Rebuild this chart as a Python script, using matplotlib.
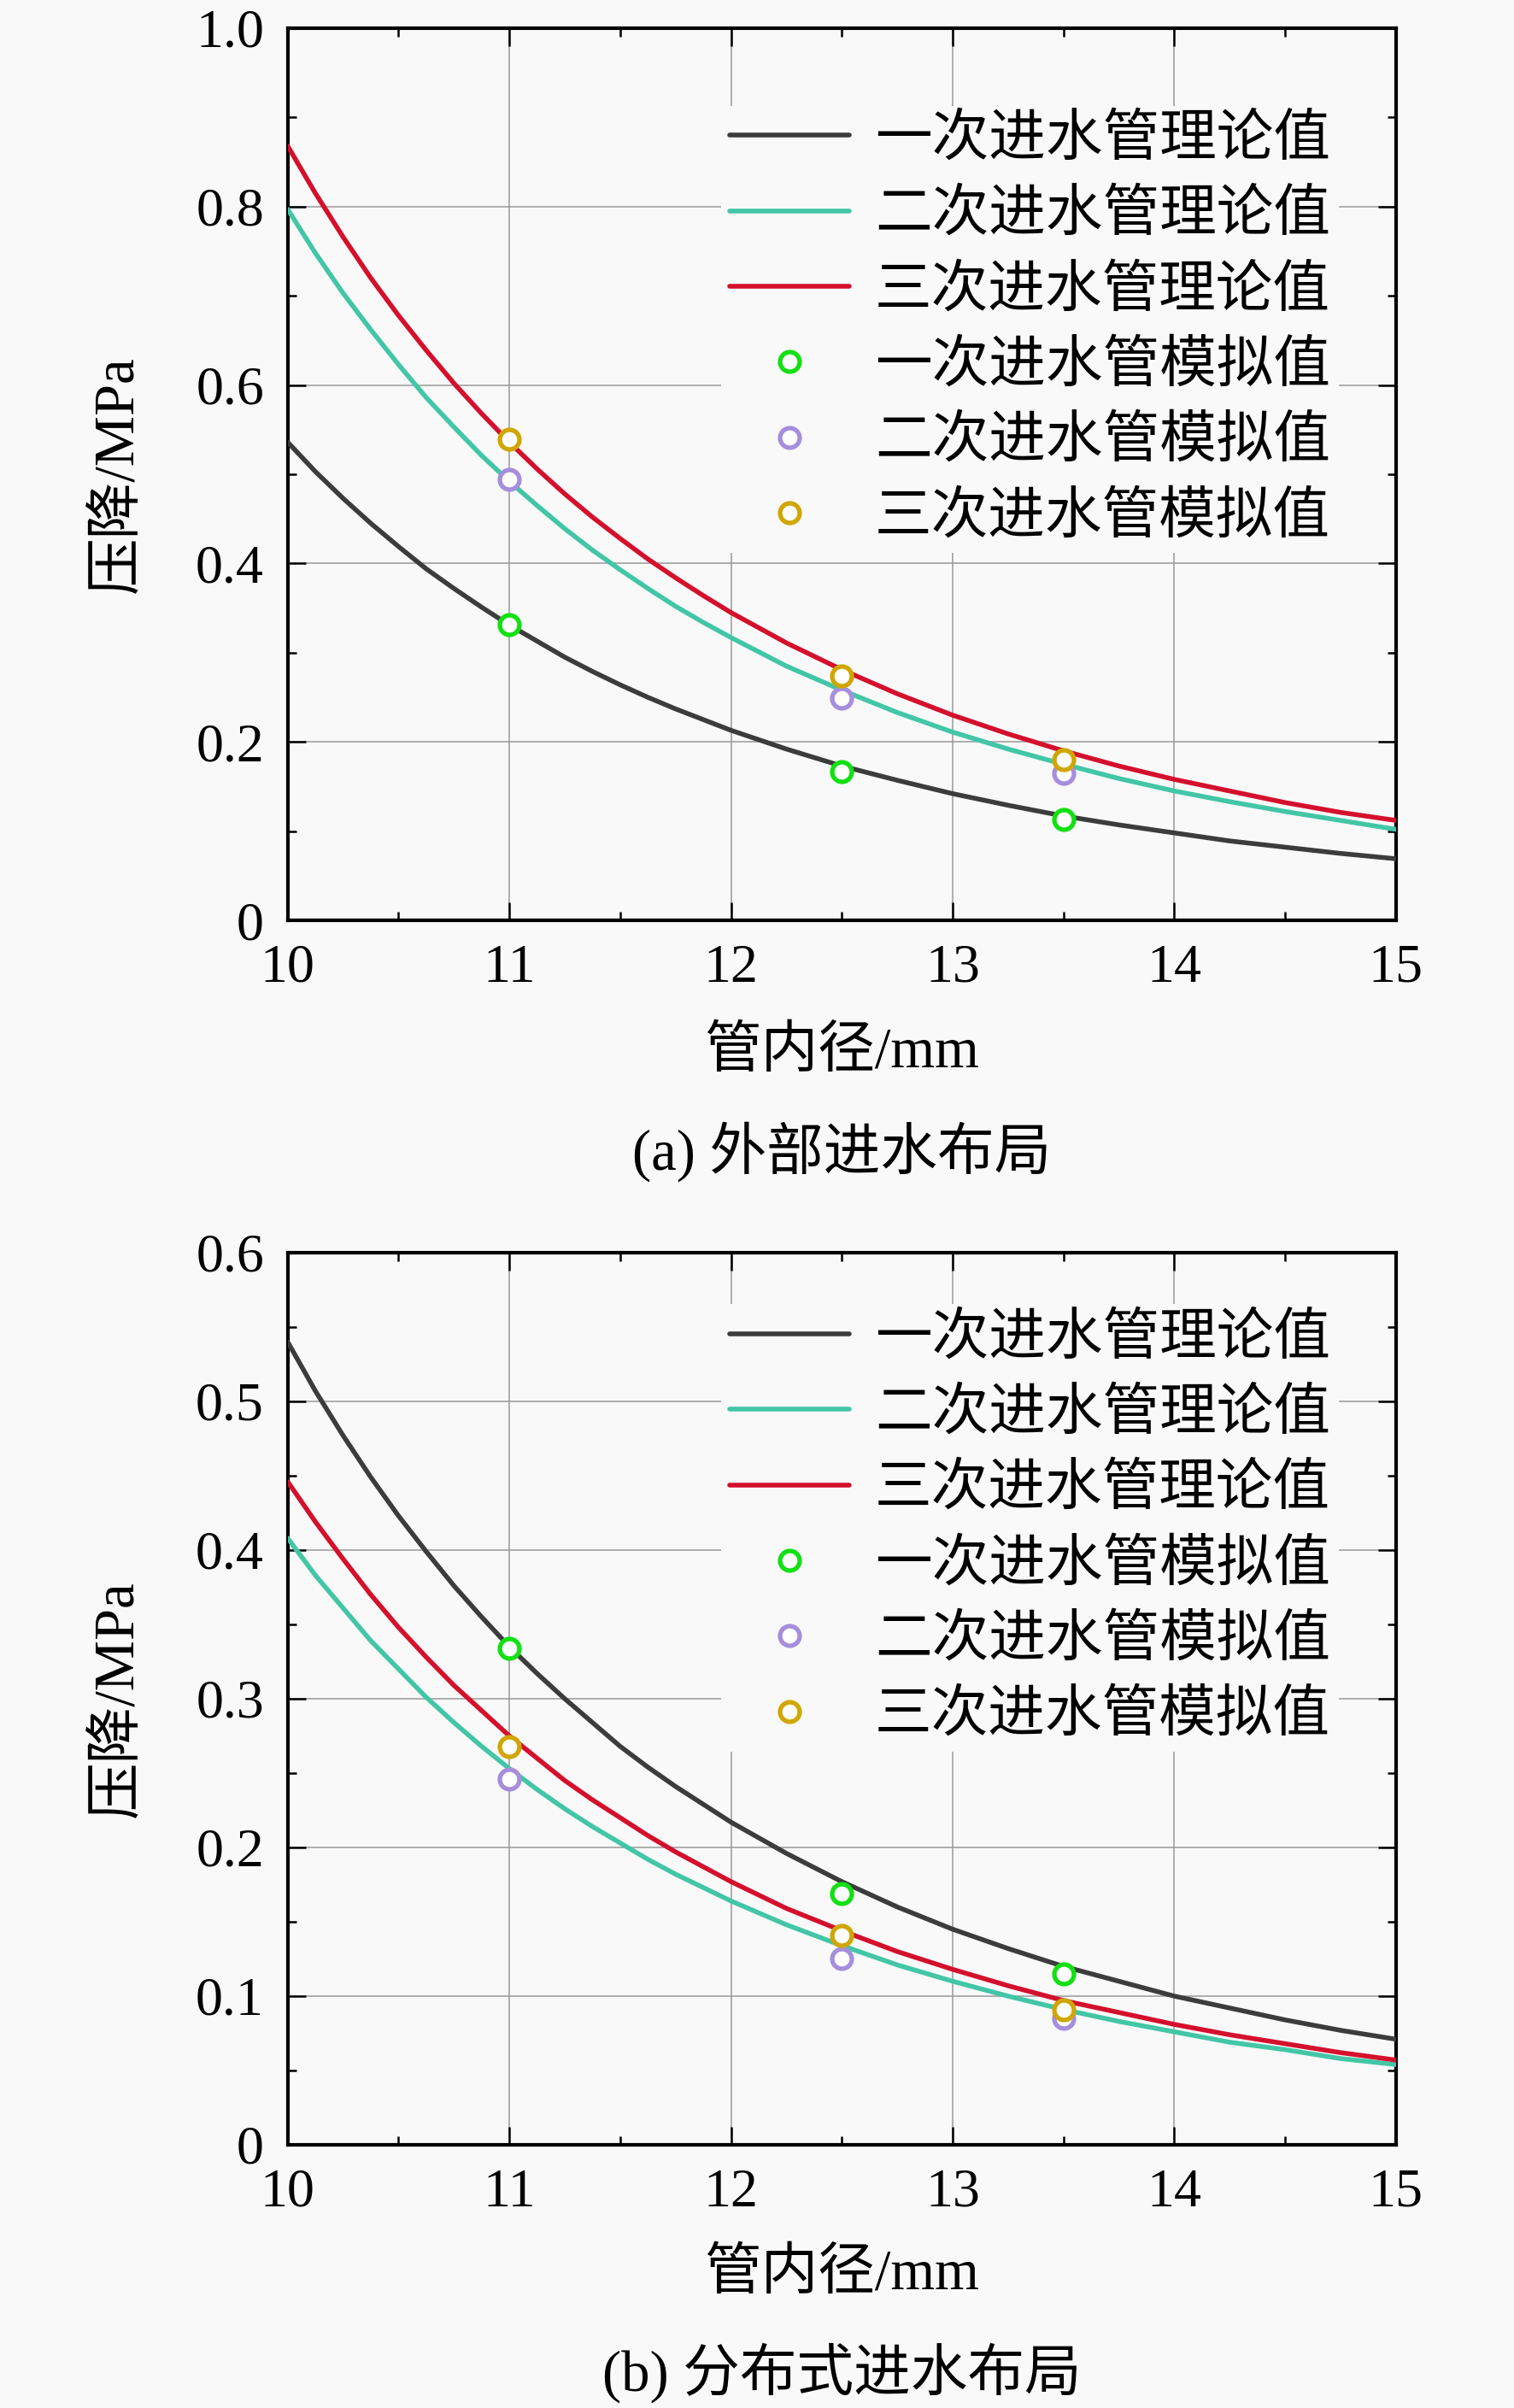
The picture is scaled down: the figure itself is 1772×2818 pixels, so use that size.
import matplotlib
matplotlib.use('Agg')
import matplotlib.pyplot as plt
from matplotlib.ticker import MultipleLocator, FuncFormatter

plt.rcParams['font.family'] = ['Liberation Serif', 'Noto Sans CJK SC']

# pipe inner diameter (mm) for the theoretical curves
d_theory = [10, 10.125, 10.25, 10.375, 10.5, 10.625, 10.75, 10.875, 11, 11.125,
            11.25, 11.375, 11.5, 11.625, 11.75, 11.875, 12, 12.25, 12.5, 12.75,
            13, 13.25, 13.5, 13.75, 14, 14.25, 14.5, 14.75, 15]
# simulated diameters
d_sim = [11, 12.5, 13.5]

# (a) external inlet layout, theory (MPa)
a_theory1 = [0.536, 0.503, 0.473, 0.445, 0.419, 0.394, 0.372, 0.351, 0.331, 0.313,
             0.295, 0.279, 0.264, 0.250, 0.237, 0.225, 0.213, 0.192, 0.173, 0.157,
             0.142, 0.129, 0.117, 0.107, 0.098, 0.089, 0.082, 0.075, 0.069]
a_theory2 = [0.797, 0.748, 0.703, 0.662, 0.623, 0.586, 0.553, 0.521, 0.492, 0.465,
             0.439, 0.415, 0.393, 0.372, 0.352, 0.334, 0.317, 0.285, 0.258, 0.233,
             0.211, 0.192, 0.175, 0.159, 0.145, 0.133, 0.122, 0.112, 0.102]
a_theory3 = [0.868, 0.815, 0.766, 0.720, 0.678, 0.639, 0.602, 0.568, 0.536, 0.506,
             0.478, 0.452, 0.428, 0.405, 0.384, 0.364, 0.345, 0.311, 0.281, 0.254,
             0.230, 0.209, 0.190, 0.173, 0.158, 0.145, 0.132, 0.121, 0.112]
# (a) simulation
a_sim1 = [0.331, 0.167, 0.113]
a_sim2 = [0.494, 0.249, 0.165]
a_sim3 = [0.539, 0.274, 0.180]

# (b) distributed inlet layout, theory (MPa)
b_theory1 = [0.540, 0.507, 0.477, 0.449, 0.423, 0.399, 0.376, 0.355, 0.335, 0.317,
             0.300, 0.284, 0.268, 0.254, 0.241, 0.229, 0.217, 0.196, 0.177, 0.160,
             0.145, 0.132, 0.120, 0.110, 0.100, 0.092, 0.084, 0.077, 0.071]
b_theory2 = [0.408, 0.383, 0.361, 0.339, 0.320, 0.301, 0.284, 0.268, 0.253, 0.239,
             0.226, 0.214, 0.203, 0.192, 0.182, 0.173, 0.164, 0.148, 0.134, 0.121,
             0.110, 0.100, 0.091, 0.083, 0.076, 0.069, 0.064, 0.058, 0.054]
b_theory3 = [0.446, 0.419, 0.394, 0.370, 0.348, 0.328, 0.309, 0.292, 0.275, 0.260,
             0.245, 0.232, 0.220, 0.208, 0.197, 0.187, 0.177, 0.159, 0.144, 0.130,
             0.118, 0.107, 0.097, 0.089, 0.081, 0.074, 0.068, 0.062, 0.057]
# (b) simulation
b_sim1 = [0.334, 0.169, 0.115]
b_sim2 = [0.246, 0.125, 0.085]
b_sim3 = [0.268, 0.141, 0.091]

theory_labels = ['一次进水管理论值', '二次进水管理论值', '三次进水管理论值']
sim_labels = ['一次进水管模拟值', '二次进水管模拟值', '三次进水管模拟值']
captions = ['(a) 外部进水布局', '(b) 分布式进水布局']

line_colors = ['#3c3c3c', '#42c6a6', '#d4102c']
marker_colors = ['#12e012', '#a58fdc', '#d0a600']
bg = '#f9f9f9'


def ytick_fmt(v, pos):
    if abs(v) < 1e-9:
        return '0'
    return '%.1f' % v


def draw_panel(ax, theory, sims, ymax, yminor, caption, label_y, cap_y, leg_top):
    ax.set_facecolor(bg)
    for ys, c, lab in zip(theory, line_colors, theory_labels):
        ax.plot(d_theory, ys, color=c, lw=4.0, label=lab, zorder=3,
                solid_joinstyle='round', solid_capstyle='round')
    for ys, c, lab in zip(sims, marker_colors, sim_labels):
        ax.plot(d_sim, ys, ls='none', marker='o', ms=16.5, mew=3.8,
                mec=c, mfc='white', label=lab, zorder=4)

    ax.set_xlim(10, 15)
    ax.set_ylim(0, ymax)
    ax.xaxis.set_major_locator(MultipleLocator(1))
    ax.xaxis.set_minor_locator(MultipleLocator(0.5))
    ax.yaxis.set_major_locator(MultipleLocator(0.2 if ymax > 0.7 else 0.1))
    ax.yaxis.set_minor_locator(MultipleLocator(yminor))
    ax.yaxis.set_major_formatter(FuncFormatter(ytick_fmt))
    ax.tick_params(which='both', direction='in', top=True, right=True,
                   labelsize=46, pad=20, colors='black')
    ax.tick_params(which='major', length=15, width=1.8)
    ax.tick_params(which='minor', length=7, width=1.8)
    for s in ax.spines.values():
        s.set_linewidth(3)
    ax.grid(True, which='major', color='#999999', lw=1.1, zorder=0)

    ax.set_ylabel('压降/MPa', fontsize=48)
    ax.yaxis.set_label_coords(-0.153, 0.5)
    ax.yaxis.label.set_va('center')
    ax.set_xlabel('管内径/mm', fontsize=48)
    ax.xaxis.set_label_coords(0.5, label_y)
    ax.xaxis.label.set_va('center')
    ax.text(0.5, cap_y, caption, transform=ax.transAxes, ha='center',
            va='center', fontsize=48)

    leg = ax.legend(loc='upper left', bbox_to_anchor=(0.391, leg_top),
                    fontsize=48, frameon=True, facecolor=bg, edgecolor='none',
                    framealpha=1, fancybox=False, borderpad=0.15,
                    borderaxespad=0, handlelength=2.1, handletextpad=0.45,
                    labelspacing=0.40)
    leg.set_zorder(5)


fig = plt.figure(figsize=(17.72, 28.18), dpi=100, facecolor=bg)
ax_a = fig.add_axes([0.190, 0.6178, 0.732, 0.3705])
ax_b = fig.add_axes([0.190, 0.1093, 0.732, 0.3705])

draw_panel(ax_a, [a_theory1, a_theory2, a_theory3], [a_sim1, a_sim2, a_sim3],
           1.0, 0.1, captions[0], -0.149, -0.259, 0.913)
draw_panel(ax_b, [b_theory1, b_theory2, b_theory3], [b_sim1, b_sim2, b_sim3],
           0.6, 0.05, captions[1], -0.146, -0.255, 0.942)

fig.savefig('out.png', dpi=100, facecolor=bg)
